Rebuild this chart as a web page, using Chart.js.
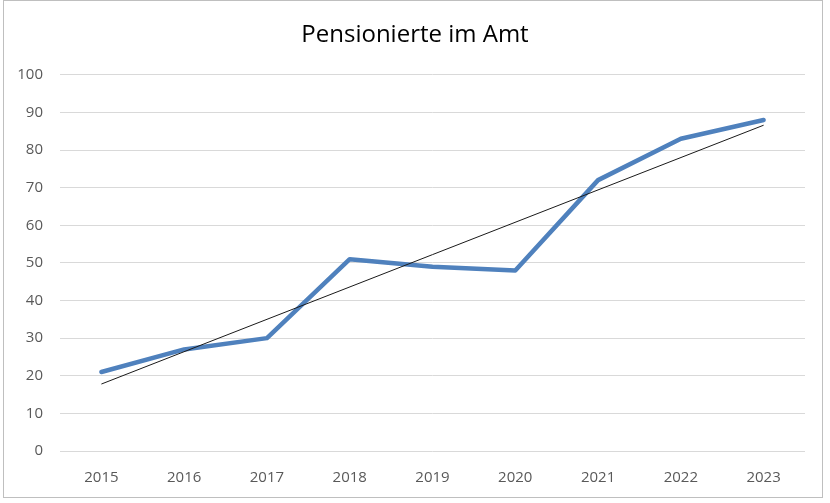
<!DOCTYPE html>
<html>
<head>
<meta charset="utf-8">
<style>
  html, body { margin: 0; padding: 0; background: #fff; }
  #wrap { position: relative; width: 830px; height: 503px; }
</style>
<script src="https://cdn.jsdelivr.net/npm/chart.js@4"></script>
</head>
<body>
<div id="wrap"><canvas id="c" width="830" height="503"></canvas></div>
<script>
const chartTitle = "Pensionierte im Amt";
const years = ["2015", "2016", "2017", "2018", "2019", "2020", "2021", "2022", "2023"];
const pensionierte = [21, 27, 30, 51, 49, 48, 72, 83, 88];
const trend = [17.8, null, null, null, null, null, null, null, 86.6];
const yMin = 0, yMax = 100, yStep = 10;

const frame = {
  id: 'frame',
  beforeDraw(chart) {
    const ctx = chart.ctx;
    ctx.save();
    ctx.fillStyle = '#ffffff';
    ctx.fillRect(0, 0, chart.width, chart.height);
    ctx.strokeStyle = '#bfbfbf';
    ctx.lineWidth = 1;
    ctx.strokeRect(3.5, 0.5, 819, 497);
    ctx.restore();
  }
};

new Chart(document.getElementById('c'), {
  type: 'line',
  data: {
    labels: years,
    datasets: [
      {
        label: 'Pensionierte',
        data: pensionierte,
        borderColor: '#4F81BD',
        borderWidth: 4.5,
        borderCapStyle: 'round',
        borderJoinStyle: 'round',
        pointRadius: 0,
        tension: 0,
        fill: false,
        order: 1
      },
      {
        label: 'Trend',
        data: trend,
        borderColor: '#1a1a1a',
        borderWidth: 1,
        pointRadius: 0,
        spanGaps: true,
        tension: 0,
        fill: false,
        order: 0
      }
    ]
  },
  options: {
    responsive: false,
    animation: false,
    devicePixelRatio: 1,
    layout: { padding: { left: 0, right: 0, top: 0, bottom: 0 } },
    plugins: {
      legend: { display: false },
      tooltip: { enabled: false },
      title: {
        display: true,
        text: chartTitle,
        color: '#000000',
        font: { family: 'Open Sans', size: 24, weight: 'normal' },
        padding: { top: 21, bottom: 25 }
      }
    },
    scales: {
      x: {
        offset: true,
        grid: { display: false, drawTicks: false },
        border: { display: false },
        ticks: {
          color: '#595959',
          font: { family: 'Open Sans', size: 15 },
          padding: 18,
          maxRotation: 0
        },
        afterFit(scale) { scale.height = 52; }
      },
      y: {
        min: yMin,
        max: yMax,
        grid: { color: '#d9d9d9', lineWidth: 1, drawTicks: false },
        border: { display: false },
        ticks: {
          stepSize: yStep,
          color: '#595959',
          font: { family: 'Open Sans', size: 15 },
          padding: 17
        },
        afterFit(scale) { scale.width = 60; }
      },
      yRight: {
        position: 'right',
        min: yMin,
        max: yMax,
        grid: { display: false, drawTicks: false },
        border: { display: false },
        ticks: { display: false },
        afterFit(scale) { scale.width = 25; }
      }
    }
  },
  plugins: [frame]
});
</script>
</body>
</html>
